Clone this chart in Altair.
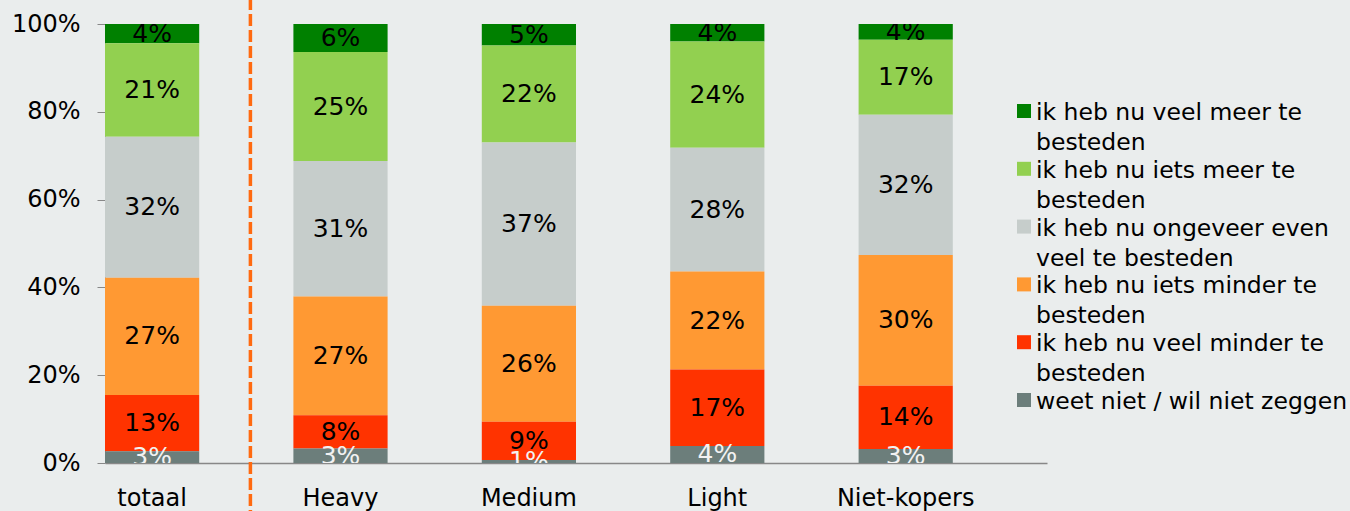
import altair as alt
import pandas as pd

groups = ["totaal", "Heavy", "Medium", "Light", "Niet-kopers"]
answers = [
    "ik heb nu veel meer te besteden",
    "ik heb nu iets meer te besteden",
    "ik heb nu ongeveer even veel te besteden",
    "ik heb nu iets minder te besteden",
    "ik heb nu veel minder te besteden",
    "weet niet / wil niet zeggen",
]
legend_lines = [
    ["ik heb nu veel meer te", "besteden"],
    ["ik heb nu iets meer te", "besteden"],
    ["ik heb nu ongeveer even", "veel te besteden"],
    ["ik heb nu iets minder te", "besteden"],
    ["ik heb nu veel minder te", "besteden"],
    ["weet niet / wil niet zeggen"],
]
colors = ["#008000", "#92D050", "#C6CDCB", "#FF9933", "#FF3300", "#6C7E7B"]

# values per answer (same order as answers), one entry per group
veel_meer = [4.4, 6.4, 4.9, 4.0, 3.6]
iets_meer = [21.3, 24.8, 22.1, 24.2, 17.1]
even = [32.1, 30.9, 37.2, 28.2, 31.9]
iets_minder = [26.7, 27.0, 26.4, 22.3, 29.8]
veel_minder = [12.8, 7.6, 8.7, 17.4, 14.4]
weet_niet = [2.7, 3.3, 0.7, 3.9, 3.2]
series = [veel_meer, iets_meer, even, iets_minder, veel_minder, weet_niet]

rows = []
for ai, (ans, vals) in enumerate(zip(answers, series)):
    for g, v in zip(groups, vals):
        rows.append({"group": g, "answer": ans, "value": v, "ord": len(answers) - 1 - ai})
df = pd.DataFrame(rows)

leg_df = pd.DataFrame({"answer": answers, "idx": list(range(len(answers))), "lines": legend_lines})

FONT = "DejaVu Sans"
W, H = 942, 439

color_scale = alt.Scale(domain=answers, range=colors)
x_scale = alt.Scale(domain=groups, paddingInner=0.5, paddingOuter=0.25, align=0)
y_scale = alt.Scale(domain=[0, 100], nice=False)

x_axis = alt.Axis(title=None, ticks=False, labelAngle=0, labelFontSize=24,
                  labelFont=FONT, labelColor="#000000", labelPadding=23,
                  domainColor="#888888", domainWidth=1.5)
y_axis = alt.Axis(title=None, values=[0, 20, 40, 60, 80, 100],
                  labelExpr="datum.value + '%'", grid=False,
                  tickSize=8, tickColor="#888888", domainColor="#888888",
                  labelFontSize=24, labelFont=FONT, labelColor="#000000",
                  labelPadding=17)

bars = alt.Chart(df).mark_bar().encode(
    x=alt.X("group:N", sort=groups, scale=x_scale, axis=x_axis),
    y=alt.Y("value:Q", stack="zero", scale=y_scale, axis=y_axis),
    color=alt.Color("answer:N", scale=color_scale, legend=None),
    order=alt.Order("ord:Q", sort="ascending"),
)

labels = alt.Chart(df).transform_stack(
    stack="value", groupby=["group"], as_=["y0", "y1"],
    sort=[alt.SortField("ord", order="ascending")],
).transform_calculate(
    mid="(datum.y0 + datum.y1) / 2",
    lbl="format(datum.value, '.0f') + '%'",
).mark_text(fontSize=25, font=FONT, baseline="middle", align="center", clip=True).encode(
    x=alt.X("group:N", sort=groups, scale=x_scale, axis=x_axis),
    y=alt.Y("mid:Q", scale=y_scale, axis=y_axis),
    text="lbl:N",
    color=alt.condition(alt.datum.answer == answers[-1], alt.value("#F2F2F2"), alt.value("#000000")),
)

divider = alt.Chart(pd.DataFrame({"d": [0]})).mark_rule(
    color="#FF6A10", strokeWidth=3.5, strokeDash=[12, 4], xOffset=-43
).encode(
    x=alt.XDatum("Heavy", bandPosition=0, scale=x_scale),
    y=alt.value(-26),
    y2=alt.value(H + 50),
)

leg_y = alt.Y("idx:O", scale=alt.Scale(type="point", range=[87, 376], padding=0), axis=None)
leg_sq = alt.Chart(leg_df).mark_square(size=196, opacity=1).encode(
    x=alt.value(919),
    y=leg_y,
    color=alt.Color("answer:N", scale=color_scale, legend=None),
)
leg_txt = alt.Chart(leg_df).mark_text(
    align="left", baseline="alphabetic", dy=9, fontSize=23.5, font=FONT, lineHeight=30, color="#000000"
).encode(
    x=alt.value(931),
    y=leg_y,
    text="lines",
)

chart = alt.layer(
    alt.layer(bars, labels, divider),
    alt.layer(leg_sq, leg_txt),
).resolve_scale(y="independent").properties(
    width=W, height=H,
    background="#EAEDED",
    padding={"left": 105, "top": 24, "right": 303, "bottom": 48},
    autosize=alt.AutoSizeParams(type="none"),
).configure_view(stroke=None)

chart.save("out.html", embed_options={"renderer": "svg", "actions": False})
